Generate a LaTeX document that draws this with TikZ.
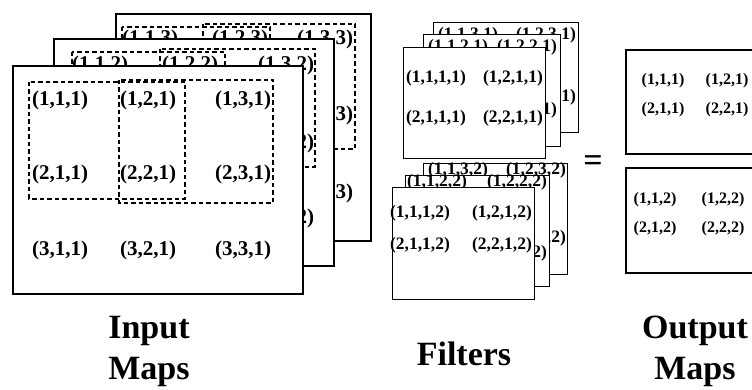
\documentclass[tikz,border=0pt]{standalone}
\usepackage{fontspec}
\setmainfont{Liberation Serif}
\usetikzlibrary{positioning}

\begin{document}
\begin{tikzpicture}[x=1pt, y=-1pt,
    mapbox/.style={draw, fill=white, line width=2.3pt},
    filtbox/.style={draw, fill=white, line width=0.9pt},
    outbox/.style={draw, fill=white, line width=1.2pt},
    window/.style={draw, line width=1.1pt, dash pattern=on 4.5pt off 3pt},
    inlab/.style={inner sep=0pt, font=\fontsize{21}{24}\selectfont\bfseries},
    filtlab/.style={inner sep=0pt, font=\fontsize{17.5}{20}\selectfont\bfseries},
    outlab/.style={inner sep=0pt, font=\fontsize{16}{19}\selectfont\bfseries},
    heading/.style={align=center, inner sep=0pt, font=\fontsize{34}{41}\selectfont\bfseries}]
    \useasboundingbox (0,0) rectangle (752,390);

    % input maps, back to front
    \draw[mapbox] (116,14) rectangle (371,241);
    \foreach \i/\y in {1/39,2/115,3/193}
        \foreach \j/\x in {1/150,2/240,3/325}
            \node[inlab] (in-\i-\j-3) at (\x,\y) {(\i,\j,3)};
    \draw[window] (122,27) rectangle (270,150);
    \draw[window] (203,24) rectangle (355,149);

    \draw[mapbox] (54,39) rectangle (334,266);
    \foreach \i/\y in {1/65,2/143,3/218}
        \foreach \j/\x in {1/100,2/190,3/286}
            \node[inlab] (in-\i-\j-2) at (\x,\y) {(\i,\j,2)};
    \draw[window] (72,52) rectangle (225,170);
    \draw[window] (160,49) rectangle (315,167);

    \draw[mapbox] (13,66) rectangle (303,294);
    \foreach \i/\y in {1/100,2/174,3/250}
        \foreach \j/\x in {1/60,2/148,3/243}
            \node[inlab] (in-\i-\j-1) at (\x,\y) {(\i,\j,1)};
    \draw[window] (29,82) rectangle (185,199);
    \draw[window] (119,80) rectangle (273,203);

    % filters, first group
    \draw[filtbox] (433,22) rectangle (578,132);
    \foreach \i/\y in {1/35,2/97}
        \foreach \j/\x in {1/468,2/546}
            \node[filtlab] (f-\i-\j-3-1) at (\x,\y) {(\i,\j,3,1)};
    \draw[filtbox] (423,34) rectangle (560,146);
    \foreach \i/\y in {1/47,2/110}
        \foreach \j/\x in {1/458,2/527}
            \node[filtlab] (f-\i-\j-2-1) at (\x,\y) {(\i,\j,2,1)};
    \draw[filtbox] (403,47) rectangle (545,158);
    \foreach \i/\y in {1/78,2/118}
        \foreach \j/\x in {1/436,2/513}
            \node[filtlab] (f-\i-\j-1-1) at (\x,\y) {(\i,\j,1,1)};

    % filters, second group
    \draw[filtbox] (423,163) rectangle (567,274);
    \foreach \i/\y in {1/170,2/238}
        \foreach \j/\x in {1/458,2/536}
            \node[filtlab] (f-\i-\j-3-2) at (\x,\y) {(\i,\j,3,2)};
    \draw[filtbox] (405,175) rectangle (549,286);
    \foreach \i/\y in {1/182,2/253}
        \foreach \j/\x in {1/437,2/517}
            \node[filtlab] (f-\i-\j-2-2) at (\x,\y) {(\i,\j,2,2)};
    \draw[filtbox] (392,187) rectangle (534,299);
    \foreach \i/\y in {1/213,2/245}
        \foreach \j/\x in {1/420,2/502}
            \node[filtlab] (f-\i-\j-1-2) at (\x,\y) {(\i,\j,1,2)};

    \node[inner sep=0pt, font=\fontsize{34}{40}\selectfont\bfseries] (eq) at (593,164) {=};

    % output maps
    \draw[outbox] (626,50) rectangle (770,154);
    \foreach \i/\y in {1/81,2/110}
        \foreach \j/\x in {1/663,2/727}
            \node[outlab] (out-\i-\j-1) at (\x,\y) {(\i,\j,1)};
    \draw[outbox] (626,168) rectangle (770,273);
    \foreach \i/\y in {1/200,2/229}
        \foreach \j/\x in {1/655,2/723}
            \node[outlab] (out-\i-\j-2) at (\x,\y) {(\i,\j,2)};

    % captions
    \node[heading] (inname) at (149,351) {Input\\Maps};
    \node[heading, anchor=base] (filtname) at (464,365) {Filters};
    \node[heading] (outname) at (695,351) {Output\\Maps};
\end{tikzpicture}
\end{document}
